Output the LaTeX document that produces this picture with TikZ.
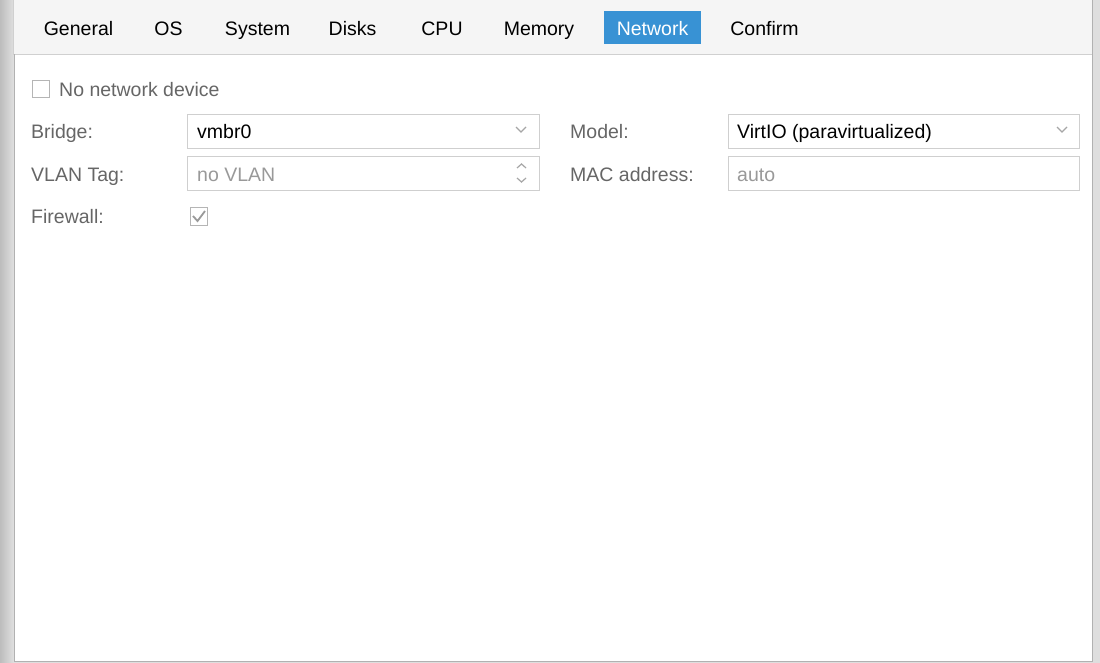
\documentclass[tikz,border=0pt]{standalone}
\usepackage{fontspec}
\setmainfont{Liberation Sans}
\definecolor{stripgray}{HTML}{DEDEDE}
\definecolor{barbg}{HTML}{F5F5F5}
\definecolor{lineg}{HTML}{D0D0D0}
\definecolor{fieldline}{HTML}{CFCFCF}
\definecolor{labelc}{HTML}{666666}
\definecolor{phc}{HTML}{999999}
\definecolor{tabblue}{HTML}{3892D4}
\definecolor{chk}{HTML}{B5B5B5}
\begin{document}
\begin{tikzpicture}[x=1pt,y=-1pt,
  txt/.style={inner sep=0pt,font=\fontsize{19.5}{22}\selectfont},
  tab/.style={txt,anchor=base,text=black},
  lbl/.style={txt,anchor=base west,text=labelc},
  val/.style={txt,anchor=base west,text=black},
  ph/.style={txt,anchor=base west,text=phc},
  field/.style={draw=fieldline,fill=white,line width=1pt},
  chkbox/.style={draw=chk,line width=1.3pt,fill=white},
  arrowc/.style={draw=fieldline!80!black,line width=1.2pt}
]
\useasboundingbox (0,0) rectangle (1100,663);
% background strips
\fill[stripgray] (0,0) rectangle (1100,663);
\fill[left color=stripgray!85!black, right color=stripgray] (0,0) rectangle (13,663);
\fill[barbg] (13,0) rectangle (1092,54);
\fill[white] (14,55) rectangle (1092,661);
\draw[lineg,line width=1pt] (13,54.5) -- (1092,54.5);
\draw[lineg!85!black,line width=1pt] (14.5,54.5) -- (14.5,661.5) -- (1092.5,661.5) -- (1092.5,0);
\draw[lineg,line width=1pt] (13.5,0) -- (13.5,54.5);

% tabs
\fill[tabblue] (604,11) rectangle (701,44);
\node[tab] (tgen) at (78.5,35.5) {General};
\node[tab] (tos) at (168.5,35.5) {OS};
\node[tab] (tsys) at (257.5,35.5) {System};
\node[tab] (tdisk) at (352.5,35.5) {Disks};
\node[tab] (tcpu) at (442,35.5) {CPU};
\node[tab] (tmem) at (539,35.5) {Memory};
\node[tab,text=white] (tnet) at (652.5,35.5) {Network};
\node[tab] (tconf) at (764.5,35.5) {Confirm};

% no network device
\draw[chkbox] (32.5,80.5) rectangle (49.5,97.5);
\node[lbl] (nnd) at (59,97) {No network device};

% labels
\node[lbl] (lbridge) at (31,139) {Bridge:};
\node[lbl] (lvlan) at (31,182) {VLAN Tag:};
\node[lbl] (lfw) at (31,224) {Firewall:};
\node[lbl] (lmodel) at (570,139) {Model:};
\node[lbl] (lmac) at (570,182) {MAC address:};

% fields
\draw[field] (187.5,114.5) rectangle (539.5,148.5);
\node[val] (vbridge) at (197,139) {vmbr0};
\draw[arrowc] (516,127) -- (521,132) -- (526,127);

\draw[field] (187.5,156.5) rectangle (539.5,190.5);
\node[ph] (vvlan) at (197,182) {no VLAN};
\draw[arrowc] (517,168) -- (521.5,164) -- (526,168);
\draw[arrowc] (517,178) -- (521.5,182) -- (526,178);

\draw[field] (728.5,114.5) rectangle (1079.5,148.5);
\node[val] (vmodel) at (737,139) {VirtIO (paravirtualized)};
\draw[arrowc] (1057,127) -- (1062,132) -- (1067,127);

\draw[field] (728.5,156.5) rectangle (1079.5,190.5);
\node[ph] (vmac) at (737,182) {auto};

% firewall checkbox
\draw[chkbox] (190.5,207.5) rectangle (207.5,225.5);
\draw[chk!85!black,line width=1.8pt] (193,216) -- (197.5,221) -- (205,211);
\end{tikzpicture}
\end{document}
